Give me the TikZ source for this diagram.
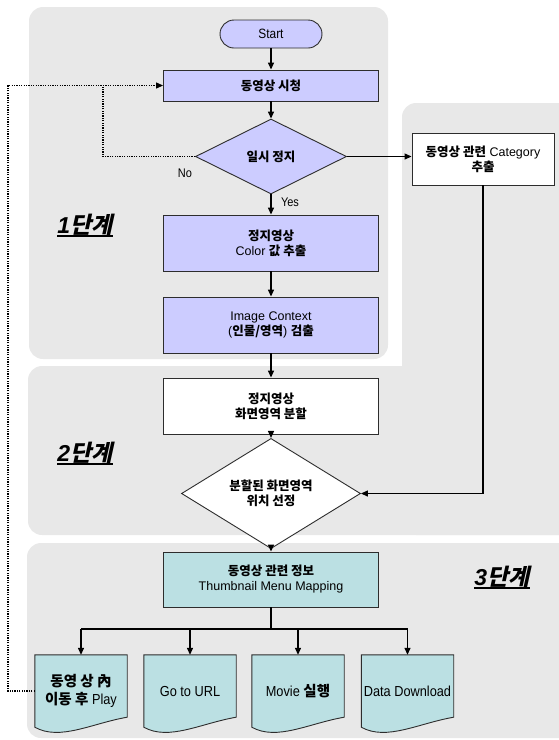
\documentclass[tikz,border=0pt]{standalone}
\usepackage{fontspec}
\setmainfont{Liberation Sans}
\newfontfamily\nar{Liberation Sans}[FakeStretch=0.88]
\newfontfamily\krfont{Noto Sans CJK KR}
\newfontfamily\krslant{Noto Sans CJK KR}[FakeSlant=0.22]
\newcommand\K[1]{{\krfont\bfseries #1}}
\usetikzlibrary{shapes.geometric,arrows.meta}
\pgfdeclarelayer{background}
\pgfsetlayers{background,main}

\definecolor{zone}{RGB}{232,232,232}
\definecolor{lav}{RGB}{204,204,255}
\definecolor{aqua}{RGB}{187,224,227}
\definecolor{edge}{RGB}{45,45,45}

\begin{document}
\begin{tikzpicture}[x=1pt,y=-1pt,
  boxtext/.style={font=\fontsize{12.5}{15}\selectfont,align=center},
  box/.style={boxtext,draw=edge,line width=0.9pt,rectangle,
    minimum width=215pt,minimum height=56pt,inner sep=2pt},
  lavbox/.style={box,fill=lav},
  whitebox/.style={box,fill=white},
  aquabox/.style={box,fill=aqua},
  decision/.style={boxtext,draw=edge,line width=0.9pt,diamond,inner sep=0pt},
  docbox/.style={font=\fontsize{14.5}{18}\selectfont\nar,align=center,
    minimum width=92pt,minimum height=72pt,inner sep=0pt},
  docshape/.style={fill=aqua,draw=edge,line width=0.9pt},
  arr/.style={line width=1.3pt,-{Triangle[length=7pt,width=6pt]}},
  link/.style={line width=1.3pt},
  dotline/.style={line width=1.2pt,dash pattern=on 1.2pt off 1.2pt},
  stage/.style={font=\fontsize{23}{24}\selectfont\bfseries\itshape,inner sep=0pt},
  underrule/.style={line width=1.8pt,black},
  tag/.style={font=\fontsize{12.5}{14}\selectfont\nar,inner sep=0pt}]

\useasboundingbox (0,0) rectangle (559,740);

% stage panels
\begin{pgfonlayer}{background}
  \fill[zone,rounded corners=14pt] (29,7) rectangle (388,359);
  \fill[zone,rounded corners=14pt] (402,103) rectangle (590,535);
  \fill[zone,rounded corners=14pt] (28,366) rectangle (590,535);
  \fill[zone,rounded corners=14pt] (27,543) rectangle (590,738);
\end{pgfonlayer}

% stage 1
\node[draw=edge,line width=0.9pt,fill=lav,rounded corners=14pt,
  minimum width=102pt,minimum height=28pt,font=\fontsize{13.5}{15}\selectfont\nar]
  (start) at (271,34) {Start};
\node[lavbox,minimum height=31pt] (watch) at (271,85.5) {\K{동영상 시청}};
\node[decision,fill=lav,minimum width=151pt,minimum height=75pt]
  (pause) at (271,156.5) {\K{일시 정지}};
\node[whitebox,minimum width=142pt,minimum height=52pt]
  (cat) at (483,159) {\K{동영상 관련} Category\\\K{추출}};
\node[lavbox] (color) at (271,243) {\K{정지영상}\\Color \K{값 추출}};
\node[lavbox] (ctx) at (271,325) {Image Context\\(\K{인물/영역}) \K{검출}};

% stage 2
\node[whitebox] (split) at (271,406) {\K{정지영상}\\\K{화면영역 분할}};
\node[decision,fill=white,minimum width=179pt,minimum height=75pt]
  (pos) at (271,493.5) {\K{분할된 화면영역}\\\K{위치 선정}};

% stage 3
\node[aquabox,minimum height=55pt] (map) at (271,579.5)
  {\K{동영상 관련 정보}\\Thumbnail Menu Mapping};
\node[docbox] (d1) at (81,691) {\K{동영 상 內}\\\K{이동 후} Play};
\node[docbox] (d2) at (190,691) {Go to URL};
\node[docbox] (d3) at (298,691) {Movie \K{실행}};
\node[docbox] (d4) at (407.5,691) {Data Download};

% document outlines with wavy bottoms
\begin{pgfonlayer}{background}
  \foreach \d in {d1,d2,d3,d4} {
    \filldraw[docshape] (\d.north west) -- (\d.north east)
      -- ([yshift=10pt]\d.south east)
      .. controls ([xshift=-35pt,yshift=4pt]\d.south east)
      and ([xshift=25pt,yshift=-14pt]\d.south west) .. (\d.south west)
      -- cycle;
  }
\end{pgfonlayer}

% stage labels, underlined
\node[stage] (s1) at (85,225) {1{\krslant\bfseries 단계}};
\node[stage] (s2) at (85,453) {2{\krslant\bfseries 단계}};
\node[stage] (s3) at (502,577) {3{\krslant\bfseries 단계}};
\draw[underrule] (s1.south west) -- (s1.south east);
\draw[underrule] (s2.south west) -- (s2.south east);
\draw[underrule] (s3.south west) -- (s3.south east);

% main flow
\draw[arr] (start) -- (watch);
\draw[arr] (watch) -- (pause);
\draw[arr] (pause) -- (color);
\draw[arr] (color) -- (ctx);
\draw[arr] (ctx) -- (split);
\draw[arr] (split) -- (pos);
\draw[arr] (pos) -- (map);
\draw[arr] (pause.east) -- (pause.east -| cat.west);
\draw[arr] (cat.south) |- (pos.east);

\node[tag] (yes) at (290,202) {Yes};
\node[tag] (no) at (185,173) {No};

% branch to the four actions
\coordinate (br) at (271,629);
\draw[link] (map.south) -- (br);
\draw[link] (d1.north |- br) -- (d4.north |- br);
\foreach \d in {d1,d2,d3,d4}
  \draw[arr] (\d.north |- br) -- (\d.north);

% return paths
\coordinate (lb) at (8,0);
\coordinate (nx) at (103,0);
\draw[dotline] (d1.west) -- (d1.west -| lb) -- (watch.west -| lb) -- (watch.west -| nx);
\draw[dotline,-{Triangle[length=7pt,width=6pt]}] (watch.west -| nx) -- (watch.west);
\draw[dotline] (pause.west) -- (pause.west -| nx) -- (watch.west -| nx);
\end{tikzpicture}
\end{document}
